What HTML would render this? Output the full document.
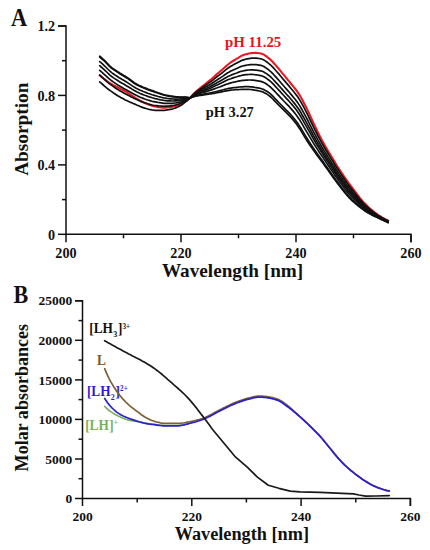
<!DOCTYPE html>
<html><head><meta charset="utf-8"><style>
html,body{margin:0;padding:0;background:#fff;}
svg{display:block;}
text{font-family:"Liberation Serif",serif;font-weight:bold;fill:#111;}
.ax{stroke:#111;stroke-width:1.5;fill:none;stroke-linejoin:miter;}
.cb{stroke:#111;stroke-width:1.7;fill:none;stroke-linejoin:round;stroke-linecap:round;}
.cr{stroke:#ea1a24;stroke-width:2.1;fill:none;stroke-linejoin:round;stroke-linecap:round;}
.cl{stroke-width:1.7;fill:none;stroke-linejoin:round;stroke-linecap:round;}
.tA{font-size:14.2px;}
.ttA{font-size:19.5px;}
.lbA{font-size:14px;}
.tB{font-size:13.5px;}
.ttB{font-size:18px;}
.lbB{font-size:13.3px;}
.sub{font-size:8px;}
.sup{font-size:7.2px;}
.pl{font-size:23.5px;}
</style></head><body>
<svg width="430" height="550" viewBox="0 0 430 550">
<rect width="430" height="550" style="fill:#fff"/>
<path d="M58.0,25.98 H66.0 V234.3 H411.00 V242.3" class="ax"/>
<line x1="58.0" y1="234.3" x2="66.0" y2="234.3" class="ax"/>
<line x1="58.0" y1="164.9" x2="66.0" y2="164.9" class="ax"/>
<line x1="58.0" y1="95.4" x2="66.0" y2="95.4" class="ax"/>
<line x1="58.0" y1="26.0" x2="66.0" y2="26.0" class="ax"/>
<line x1="62.0" y1="199.6" x2="66.0" y2="199.6" class="ax"/>
<line x1="62.0" y1="130.1" x2="66.0" y2="130.1" class="ax"/>
<line x1="62.0" y1="60.7" x2="66.0" y2="60.7" class="ax"/>
<line x1="66.0" y1="234.3" x2="66.0" y2="242.3" class="ax"/>
<line x1="181.0" y1="234.3" x2="181.0" y2="242.3" class="ax"/>
<line x1="296.0" y1="234.3" x2="296.0" y2="242.3" class="ax"/>
<line x1="411.0" y1="234.3" x2="411.0" y2="242.3" class="ax"/>
<line x1="123.5" y1="234.3" x2="123.5" y2="238.3" class="ax"/>
<line x1="238.5" y1="234.3" x2="238.5" y2="238.3" class="ax"/>
<line x1="353.5" y1="234.3" x2="353.5" y2="238.3" class="ax"/>
<text x="55.2" y="239.6" class="tA" text-anchor="end">0</text>
<text x="55.2" y="170.2" class="tA" text-anchor="end">0.4</text>
<text x="55.2" y="100.7" class="tA" text-anchor="end">0.8</text>
<text x="55.2" y="31.3" class="tA" text-anchor="end">1.2</text>
<text x="66.0" y="257.5" class="tA" text-anchor="middle">200</text>
<text x="181.0" y="257.5" class="tA" text-anchor="middle">220</text>
<text x="296.0" y="257.5" class="tA" text-anchor="middle">240</text>
<text x="411.0" y="257.5" class="tA" text-anchor="middle">260</text>
<text x="162.0" y="276.9" class="ttA" textLength="141.2" lengthAdjust="spacingAndGlyphs">Wavelength [nm]</text>
<text transform="translate(28.0,175.8) rotate(-90)" class="ttA" textLength="93.2" lengthAdjust="spacingAndGlyphs">Absorption</text>
<text transform="translate(10.9,25.8) scale(0.95,1.1)" class="pl">A</text>
<text x="225" y="46.8" class="lbA" style="fill:#e8141f" textLength="56.3" lengthAdjust="spacingAndGlyphs">pH 11.25</text>
<text x="205.8" y="117.2" class="lbA" textLength="48" lengthAdjust="spacingAndGlyphs">pH 3.27</text>
<polyline points="99.7,75.2 101.2,76.5 102.7,77.7 104.2,79.0 105.7,80.2 107.2,81.3 108.7,82.4 110.2,83.3 111.7,84.2 113.2,85.1 114.7,85.8 116.2,86.6 117.7,87.3 119.2,88.2 120.7,89.0 122.2,89.8 123.7,90.6 125.2,91.3 126.7,92.1 128.2,93.1 129.7,94.1 131.2,95.1 132.7,96.1 134.2,97.1 135.7,98.1 137.2,98.9 138.7,99.8 140.2,100.7 141.7,101.5 143.2,102.3 144.7,103.0 146.2,103.6 147.7,104.2 149.2,104.8 150.7,105.3 152.2,105.8 153.7,106.2 155.2,106.5 156.7,106.8 158.2,107.1 159.7,107.3 161.2,107.5 162.7,107.7 164.2,107.7 165.7,107.6 167.2,107.5 168.7,107.3 170.2,107.1 171.7,106.9 173.2,106.6 174.7,106.2 176.2,105.8 177.7,105.3 179.2,104.7 180.7,104.0 182.2,103.2 183.7,102.3 185.2,101.4 186.7,100.4 188.2,99.4 190.3,97.8 191.8,96.0 193.3,94.3 194.8,92.7 196.3,91.3 197.8,90.0 199.3,88.8 200.8,87.6 202.3,86.4 203.8,85.2 205.3,84.0 206.8,82.8 208.3,81.6 209.8,80.4 211.3,79.2 212.8,77.9 214.3,76.5 215.8,75.1 217.3,73.8 218.8,72.6 220.3,71.3 221.8,70.1 223.3,68.7 224.8,67.3 226.3,65.9 227.8,64.7 229.3,63.5 230.8,62.4 232.3,61.4 233.8,60.5 235.3,59.6 236.8,58.7 238.3,57.8 239.8,56.8 241.3,55.9 242.8,55.3 244.3,54.8 245.8,54.3 247.3,53.9 248.8,53.5 250.3,53.2 251.8,53.1 253.3,53.0 254.8,52.9 256.3,52.9 257.8,53.0 259.3,53.2 260.8,53.5 262.3,53.9 263.8,54.6 265.3,55.6 266.8,56.7 268.3,57.9 269.8,59.1 271.3,60.5 272.8,62.0 274.3,63.7 275.8,65.4 277.3,67.1 278.8,68.8 280.3,70.7 281.8,72.6 283.3,74.4 284.8,76.2 286.3,78.0 287.8,79.8 289.3,81.6 290.8,83.5 292.3,85.3 293.8,87.1 295.3,89.0 296.8,90.9 298.3,93.1 299.8,95.4 301.3,98.0 302.8,100.8 304.3,103.7 305.8,106.6 307.3,109.6 308.8,112.8 310.3,116.1 311.8,119.5 313.3,122.8 314.8,125.9 316.3,129.0 317.8,132.1 319.3,135.1 320.8,138.0 322.3,140.9 323.8,143.6 325.3,146.2 326.8,148.8 328.3,151.3 329.8,153.8 331.3,156.3 332.8,158.8 334.3,161.3 335.8,163.7 337.3,166.2 338.8,168.5 340.3,170.9 341.8,173.1 343.3,175.4 344.8,177.6 346.3,179.7 347.8,181.9 349.3,184.0 350.8,186.0 352.3,188.0 353.8,190.0 355.3,192.0 356.8,194.0 358.3,196.0 359.8,197.9 361.3,199.7 362.8,201.5 364.3,203.1 365.8,204.6 367.3,206.1 368.8,207.5 370.3,208.8 371.8,210.1 373.3,211.4 374.8,212.6 376.3,213.7 377.8,214.8 379.3,215.8 380.8,216.7 382.3,217.6 383.8,218.4 385.3,219.2 388.2,220.6" class="cr"/>
<polyline points="99.7,56.2 101.2,57.5 102.7,58.8 104.2,60.2 105.7,61.7 107.2,63.3 108.7,64.9 110.2,66.3 111.7,67.6 113.2,68.7 114.7,69.7 116.2,70.7 117.7,71.7 119.2,72.6 120.7,73.6 122.2,74.5 123.7,75.4 125.2,76.3 126.7,77.2 128.2,78.2 129.7,79.3 131.2,80.4 132.7,81.5 134.2,82.6 135.7,83.6 137.2,84.4 138.7,85.2 140.2,85.9 141.7,86.5 143.2,87.2 144.7,87.8 146.2,88.4 147.7,89.0 149.2,89.5 150.7,90.1 152.2,90.6 153.7,91.1 155.2,91.7 156.7,92.2 158.2,92.8 159.7,93.3 161.2,93.8 162.7,94.3 164.2,94.7 165.7,95.1 167.2,95.4 168.7,95.7 170.2,96.0 171.7,96.2 173.2,96.4 174.7,96.6 176.2,96.8 177.7,96.9 179.2,97.0 180.7,97.1 182.2,97.1 183.7,97.1 185.2,97.2 186.7,97.3 188.2,97.5 190.3,97.8 191.8,97.3 193.3,96.8 194.8,96.4 196.3,96.0 197.8,95.8 199.3,95.5 200.8,95.3 202.3,95.1 203.8,94.9 205.3,94.7 206.8,94.5 208.3,94.2 209.8,94.0 211.3,93.8 212.8,93.5 214.3,93.3 215.8,93.0 217.3,92.7 218.8,92.4 220.3,92.1 221.8,91.8 223.3,91.5 224.8,91.2 226.3,90.9 227.8,90.7 229.3,90.4 230.8,90.2 232.3,90.0 233.8,89.9 235.3,89.7 236.8,89.6 238.3,89.6 239.8,89.5 241.3,89.4 242.8,89.3 244.3,89.3 245.8,89.3 247.3,89.3 248.8,89.4 250.3,89.5 251.8,89.6 253.3,89.9 254.8,90.2 256.3,90.4 257.8,90.7 259.3,91.0 260.8,91.4 262.3,91.8 263.8,92.4 265.3,93.2 266.8,94.1 268.3,95.1 269.8,96.2 271.3,97.5 272.8,99.0 274.3,100.6 275.8,102.2 277.3,103.7 278.8,105.2 280.3,106.7 281.8,108.2 283.3,109.7 284.8,111.2 286.3,112.7 287.8,114.1 289.3,115.6 290.8,117.2 292.3,118.9 293.8,120.7 295.3,122.6 296.8,124.6 298.3,126.7 299.8,128.9 301.3,131.3 302.8,133.9 304.3,136.4 305.8,138.9 307.3,141.2 308.8,143.4 310.3,145.7 311.8,147.8 313.3,150.0 314.8,152.1 316.3,154.2 317.8,156.2 319.3,158.2 320.8,160.2 322.3,162.3 323.8,164.3 325.3,166.4 326.8,168.5 328.3,170.6 329.8,172.7 331.3,174.8 332.8,176.9 334.3,179.0 335.8,181.0 337.3,183.1 338.8,185.0 340.3,187.0 341.8,188.9 343.3,190.8 344.8,192.7 346.3,194.5 347.8,196.2 349.3,197.8 350.8,199.3 352.3,200.8 353.8,202.1 355.3,203.5 356.8,204.7 358.3,206.0 359.8,207.1 361.3,208.3 362.8,209.4 364.3,210.5 365.8,211.5 367.3,212.4 368.8,213.3 370.3,214.1 371.8,214.9 373.3,215.7 374.8,216.4 376.3,217.1 377.8,217.8 379.3,218.5 380.8,219.2 382.3,219.9 383.8,220.6 385.3,221.3 388.2,222.6" class="cb"/>
<polyline points="99.7,57.0 101.2,58.3 102.7,59.6 104.2,61.0 105.7,62.5 107.2,64.0 108.7,65.6 110.2,67.0 111.7,68.3 113.2,69.4 114.7,70.4 116.2,71.4 117.7,72.4 119.2,73.4 120.7,74.3 122.2,75.2 123.7,76.1 125.2,77.0 126.7,77.9 128.2,78.9 129.7,80.0 131.2,81.1 132.7,82.2 134.2,83.2 135.7,84.2 137.2,85.0 138.7,85.8 140.2,86.5 141.7,87.2 143.2,87.8 144.7,88.4 146.2,89.0 147.7,89.6 149.2,90.1 150.7,90.7 152.2,91.2 153.7,91.7 155.2,92.2 156.7,92.8 158.2,93.3 159.7,93.8 161.2,94.3 162.7,94.8 164.2,95.2 165.7,95.5 167.2,95.8 168.7,96.1 170.2,96.4 171.7,96.6 173.2,96.8 174.7,97.0 176.2,97.1 177.7,97.2 179.2,97.3 180.7,97.3 182.2,97.3 183.7,97.3 185.2,97.3 186.7,97.4 188.2,97.5 190.3,97.8 191.8,97.2 193.3,96.6 194.8,96.1 196.3,95.7 197.8,95.3 199.3,95.0 200.8,94.7 202.3,94.5 203.8,94.2 205.3,93.9 206.8,93.6 208.3,93.3 209.8,93.0 211.3,92.7 212.8,92.3 214.3,92.0 215.8,91.7 217.3,91.3 218.8,90.9 220.3,90.5 221.8,90.2 223.3,89.8 224.8,89.4 226.3,89.0 227.8,88.7 229.3,88.4 230.8,88.1 232.3,87.9 233.8,87.7 235.3,87.5 236.8,87.3 238.3,87.2 239.8,87.0 241.3,86.9 242.8,86.8 244.3,86.7 245.8,86.7 247.3,86.7 248.8,86.7 250.3,86.8 251.8,86.9 253.3,87.1 254.8,87.4 256.3,87.6 257.8,87.9 259.3,88.2 260.8,88.5 262.3,89.0 263.8,89.6 265.3,90.4 266.8,91.3 268.3,92.3 269.8,93.4 271.3,94.7 272.8,96.2 274.3,97.8 275.8,99.4 277.3,100.9 278.8,102.5 280.3,104.0 281.8,105.5 283.3,107.0 284.8,108.6 286.3,110.1 287.8,111.6 289.3,113.1 290.8,114.7 292.3,116.4 293.8,118.2 295.3,120.1 296.8,122.1 298.3,124.1 299.8,126.4 301.3,128.8 302.8,131.4 304.3,133.9 305.8,136.4 307.3,138.8 308.8,141.1 310.3,143.5 311.8,145.7 313.3,148.0 314.8,150.2 316.3,152.3 317.8,154.4 319.3,156.5 320.8,158.6 322.3,160.6 323.8,162.8 325.3,164.9 326.8,167.0 328.3,169.2 329.8,171.3 331.3,173.4 332.8,175.5 334.3,177.6 335.8,179.7 337.3,181.8 338.8,183.8 340.3,185.8 341.8,187.7 343.3,189.6 344.8,191.5 346.3,193.4 347.8,195.1 349.3,196.8 350.8,198.3 352.3,199.8 353.8,201.2 355.3,202.6 356.8,203.9 358.3,205.2 359.8,206.5 361.3,207.7 362.8,208.8 364.3,209.9 365.8,211.0 367.3,212.0 368.8,212.9 370.3,213.7 371.8,214.6 373.3,215.3 374.8,216.1 376.3,216.8 377.8,217.5 379.3,218.3 380.8,219.0 382.3,219.7 383.8,220.4 385.3,221.1 388.2,222.4" class="cb"/>
<polyline points="99.7,61.6 101.2,62.9 102.7,64.2 104.2,65.6 105.7,67.0 107.2,68.5 108.7,70.0 110.2,71.4 111.7,72.6 113.2,73.7 114.7,74.8 116.2,75.7 117.7,76.7 119.2,77.7 120.7,78.6 122.2,79.5 123.7,80.3 125.2,81.2 126.7,82.1 128.2,83.1 129.7,84.1 131.2,85.1 132.7,86.1 134.2,87.1 135.7,88.0 137.2,88.8 138.7,89.5 140.2,90.2 141.7,90.8 143.2,91.5 144.7,92.0 146.2,92.6 147.7,93.2 149.2,93.7 150.7,94.2 152.2,94.7 153.7,95.1 155.2,95.6 156.7,96.0 158.2,96.5 159.7,96.9 161.2,97.3 162.7,97.7 164.2,98.0 165.7,98.2 167.2,98.5 168.7,98.6 170.2,98.8 171.7,98.9 173.2,99.0 174.7,99.1 176.2,99.1 177.7,99.1 179.2,99.0 180.7,98.8 182.2,98.6 183.7,98.4 185.2,98.2 186.7,98.1 188.2,97.9 190.3,97.8 191.8,96.9 193.3,96.1 194.8,95.4 196.3,94.8 197.8,94.3 199.3,93.8 200.8,93.3 202.3,92.8 203.8,92.4 205.3,91.9 206.8,91.4 208.3,90.9 209.8,90.4 211.3,89.9 212.8,89.4 214.3,88.9 215.8,88.3 217.3,87.8 218.8,87.2 220.3,86.7 221.8,86.1 223.3,85.5 224.8,84.9 226.3,84.3 227.8,83.9 229.3,83.4 230.8,82.9 232.3,82.5 233.8,82.2 235.3,81.9 236.8,81.5 238.3,81.2 239.8,80.9 241.3,80.6 242.8,80.4 244.3,80.3 245.8,80.1 247.3,80.1 248.8,80.0 250.3,80.0 251.8,80.1 253.3,80.2 254.8,80.4 256.3,80.6 257.8,80.8 259.3,81.1 260.8,81.4 262.3,81.9 263.8,82.5 265.3,83.3 266.8,84.3 268.3,85.4 269.8,86.5 271.3,87.8 272.8,89.3 274.3,90.9 275.8,92.5 277.3,94.1 278.8,95.7 280.3,97.3 281.8,98.9 283.3,100.5 284.8,102.0 286.3,103.6 287.8,105.1 289.3,106.7 290.8,108.4 292.3,110.1 293.8,111.9 295.3,113.8 296.8,115.8 298.3,117.9 299.8,120.1 301.3,122.6 302.8,125.2 304.3,127.8 305.8,130.4 307.3,132.9 308.8,135.4 310.3,137.9 311.8,140.4 313.3,142.9 314.8,145.3 316.3,147.6 317.8,149.9 319.3,152.2 320.8,154.4 322.3,156.6 323.8,158.9 325.3,161.1 326.8,163.4 328.3,165.6 329.8,167.8 331.3,169.9 332.8,172.1 334.3,174.3 335.8,176.5 337.3,178.6 338.8,180.7 340.3,182.8 341.8,184.8 343.3,186.8 344.8,188.7 346.3,190.6 347.8,192.4 349.3,194.2 350.8,195.8 352.3,197.4 353.8,199.0 355.3,200.5 356.8,201.9 358.3,203.3 359.8,204.7 361.3,206.1 362.8,207.3 364.3,208.5 365.8,209.7 367.3,210.8 368.8,211.8 370.3,212.8 371.8,213.7 373.3,214.5 374.8,215.4 376.3,216.2 377.8,217.0 379.3,217.8 380.8,218.5 382.3,219.3 383.8,220.0 385.3,220.7 388.2,222.1" class="cb"/>
<polyline points="99.7,65.7 101.2,67.0 102.7,68.3 104.2,69.7 105.7,71.1 107.2,72.5 108.7,74.0 110.2,75.3 111.7,76.5 113.2,77.6 114.7,78.6 116.2,79.6 117.7,80.5 119.2,81.5 120.7,82.4 122.2,83.3 123.7,84.1 125.2,85.0 126.7,85.9 128.2,86.8 129.7,87.7 131.2,88.6 132.7,89.6 134.2,90.5 135.7,91.3 137.2,92.1 138.7,92.8 140.2,93.5 141.7,94.1 143.2,94.7 144.7,95.3 146.2,95.8 147.7,96.4 149.2,96.9 150.7,97.3 152.2,97.8 153.7,98.2 155.2,98.6 156.7,98.9 158.2,99.3 159.7,99.6 161.2,100.0 162.7,100.2 164.2,100.5 165.7,100.6 167.2,100.8 168.7,100.9 170.2,100.9 171.7,101.0 173.2,101.0 174.7,100.9 176.2,100.8 177.7,100.7 179.2,100.5 180.7,100.2 182.2,99.8 183.7,99.4 185.2,99.1 186.7,98.7 188.2,98.3 190.3,97.8 191.8,96.7 193.3,95.7 194.8,94.8 196.3,94.1 197.8,93.4 199.3,92.7 200.8,92.1 202.3,91.5 203.8,90.9 205.3,90.2 206.8,89.6 208.3,89.0 209.8,88.4 211.3,87.7 212.8,87.0 214.3,86.3 215.8,85.6 217.3,84.9 218.8,84.2 220.3,83.5 221.8,82.8 223.3,82.0 224.8,81.2 226.3,80.5 227.8,79.8 229.3,79.2 230.8,78.7 232.3,78.1 233.8,77.6 235.3,77.2 236.8,76.8 238.3,76.3 239.8,75.9 241.3,75.5 242.8,75.2 244.3,74.9 245.8,74.7 247.3,74.6 248.8,74.5 250.3,74.4 251.8,74.4 253.3,74.5 254.8,74.7 256.3,74.8 257.8,75.0 259.3,75.3 260.8,75.6 262.3,76.0 263.8,76.7 265.3,77.5 266.8,78.6 268.3,79.7 269.8,80.8 271.3,82.1 272.8,83.6 274.3,85.2 275.8,86.9 277.3,88.5 278.8,90.1 280.3,91.7 281.8,93.4 283.3,95.0 284.8,96.7 286.3,98.3 287.8,99.9 289.3,101.5 290.8,103.2 292.3,104.9 293.8,106.7 295.3,108.6 296.8,110.6 298.3,112.7 299.8,115.0 301.3,117.5 302.8,120.1 304.3,122.8 305.8,125.4 307.3,128.1 308.8,130.7 310.3,133.4 311.8,136.0 313.3,138.7 314.8,141.2 316.3,143.7 317.8,146.2 319.3,148.6 320.8,151.0 322.3,153.4 323.8,155.7 325.3,158.0 326.8,160.3 328.3,162.6 329.8,164.8 331.3,167.1 332.8,169.3 334.3,171.6 335.8,173.8 337.3,176.0 338.8,178.2 340.3,180.3 341.8,182.3 343.3,184.4 344.8,186.4 346.3,188.3 347.8,190.2 349.3,192.0 350.8,193.8 352.3,195.5 353.8,197.1 355.3,198.7 356.8,200.3 358.3,201.8 359.8,203.3 361.3,204.7 362.8,206.1 364.3,207.4 365.8,208.6 367.3,209.8 368.8,210.9 370.3,211.9 371.8,212.9 373.3,213.9 374.8,214.8 376.3,215.7 377.8,216.5 379.3,217.3 380.8,218.1 382.3,218.9 383.8,219.7 385.3,220.4 388.2,221.8" class="cb"/>
<polyline points="99.7,70.3 101.2,71.6 102.7,73.0 104.2,74.3 105.7,75.7 107.2,77.0 108.7,78.4 110.2,79.6 111.7,80.8 113.2,81.9 114.7,82.9 116.2,83.9 117.7,84.9 119.2,85.8 120.7,86.7 122.2,87.6 123.7,88.4 125.2,89.3 126.7,90.1 128.2,90.9 129.7,91.8 131.2,92.6 132.7,93.5 134.2,94.3 135.7,95.1 137.2,95.8 138.7,96.5 140.2,97.2 141.7,97.8 143.2,98.4 144.7,99.0 146.2,99.5 147.7,100.0 149.2,100.4 150.7,100.9 152.2,101.3 153.7,101.6 155.2,101.9 156.7,102.2 158.2,102.5 159.7,102.7 161.2,102.9 162.7,103.1 164.2,103.3 165.7,103.4 167.2,103.4 168.7,103.4 170.2,103.4 171.7,103.3 173.2,103.2 174.7,103.0 176.2,102.8 177.7,102.5 179.2,102.1 180.7,101.7 182.2,101.1 183.7,100.6 185.2,100.0 186.7,99.3 188.2,98.7 190.3,97.8 191.8,96.6 193.3,95.4 194.8,94.4 196.3,93.5 197.8,92.7 199.3,91.9 200.8,91.2 202.3,90.4 203.8,89.7 205.3,88.9 206.8,88.2 208.3,87.4 209.8,86.7 211.3,85.9 212.8,85.1 214.3,84.2 215.8,83.4 217.3,82.5 218.8,81.7 220.3,80.9 221.8,80.1 223.3,79.2 224.8,78.3 226.3,77.4 227.8,76.6 229.3,75.9 230.8,75.2 232.3,74.6 233.8,74.0 235.3,73.5 236.8,73.0 238.3,72.4 239.8,71.8 241.3,71.3 242.8,71.0 244.3,70.7 245.8,70.4 247.3,70.2 248.8,70.0 250.3,69.9 251.8,69.9 253.3,69.9 254.8,70.1 256.3,70.2 257.8,70.3 259.3,70.6 260.8,70.9 262.3,71.3 263.8,72.0 265.3,72.9 266.8,73.9 268.3,75.0 269.8,76.2 271.3,77.5 272.8,79.0 274.3,80.7 275.8,82.3 277.3,83.9 278.8,85.6 280.3,87.2 281.8,88.9 283.3,90.6 284.8,92.3 286.3,94.0 287.8,95.6 289.3,97.3 290.8,99.0 292.3,100.8 293.8,102.6 295.3,104.4 296.8,106.4 298.3,108.5 299.8,110.8 301.3,113.3 302.8,116.0 304.3,118.7 305.8,121.4 307.3,124.1 308.8,126.9 310.3,129.7 311.8,132.5 313.3,135.3 314.8,138.0 316.3,140.6 317.8,143.2 319.3,145.7 320.8,148.2 322.3,150.7 323.8,153.1 325.3,155.5 326.8,157.9 328.3,160.2 329.8,162.5 331.3,164.8 332.8,167.1 334.3,169.4 335.8,171.7 337.3,173.9 338.8,176.1 340.3,178.3 341.8,180.4 343.3,182.5 344.8,184.5 346.3,186.5 347.8,188.5 349.3,190.3 350.8,192.1 352.3,193.9 353.8,195.6 355.3,197.3 356.8,198.9 358.3,200.6 359.8,202.1 361.3,203.7 362.8,205.1 364.3,206.5 365.8,207.8 367.3,209.0 368.8,210.2 370.3,211.3 371.8,212.3 373.3,213.3 374.8,214.3 376.3,215.2 377.8,216.1 379.3,217.0 380.8,217.8 382.3,218.6 383.8,219.4 385.3,220.2 388.2,221.5" class="cb"/>
<polyline points="99.7,75.2 101.2,76.5 102.7,77.8 104.2,79.2 105.7,80.5 107.2,81.8 108.7,83.1 110.2,84.3 111.7,85.4 113.2,86.4 114.7,87.5 116.2,88.5 117.7,89.4 119.2,90.4 120.7,91.3 122.2,92.1 123.7,92.9 125.2,93.7 126.7,94.5 128.2,95.3 129.7,96.1 131.2,96.9 132.7,97.6 134.2,98.4 135.7,99.1 137.2,99.8 138.7,100.4 140.2,101.1 141.7,101.7 143.2,102.3 144.7,102.8 146.2,103.3 147.7,103.8 149.2,104.2 150.7,104.6 152.2,105.0 153.7,105.3 155.2,105.5 156.7,105.6 158.2,105.8 159.7,106.0 161.2,106.1 162.7,106.2 164.2,106.3 165.7,106.2 167.2,106.2 168.7,106.1 170.2,105.9 171.7,105.7 173.2,105.5 174.7,105.2 176.2,104.8 177.7,104.4 179.2,103.9 180.7,103.3 182.2,102.5 183.7,101.7 185.2,100.9 186.7,100.1 188.2,99.2 190.3,97.8 191.8,96.4 193.3,95.0 194.8,93.8 196.3,92.8 197.8,91.8 199.3,90.9 200.8,90.0 202.3,89.1 203.8,88.2 205.3,87.3 206.8,86.5 208.3,85.6 209.8,84.7 211.3,83.8 212.8,82.8 214.3,81.8 215.8,80.7 217.3,79.8 218.8,78.8 220.3,77.9 221.8,76.9 223.3,75.9 224.8,74.8 226.3,73.8 227.8,72.8 229.3,72.0 230.8,71.1 232.3,70.4 233.8,69.7 235.3,69.1 236.8,68.4 238.3,67.7 239.8,67.0 241.3,66.4 242.8,66.0 244.3,65.6 245.8,65.3 247.3,65.0 248.8,64.8 250.3,64.6 251.8,64.6 253.3,64.6 254.8,64.6 256.3,64.7 257.8,64.8 259.3,65.1 260.8,65.4 262.3,65.8 263.8,66.5 265.3,67.4 266.8,68.5 268.3,69.6 269.8,70.8 271.3,72.1 272.8,73.6 274.3,75.3 275.8,76.9 277.3,78.6 278.8,80.3 280.3,82.0 281.8,83.7 283.3,85.5 284.8,87.2 286.3,88.9 287.8,90.6 289.3,92.3 290.8,94.1 292.3,95.9 293.8,97.7 295.3,99.5 296.8,101.5 298.3,103.6 299.8,105.9 301.3,108.5 302.8,111.2 304.3,113.9 305.8,116.7 307.3,119.5 308.8,122.4 310.3,125.4 311.8,128.4 313.3,131.3 314.8,134.1 316.3,136.9 317.8,139.7 319.3,142.3 320.8,145.0 322.3,147.6 323.8,150.1 325.3,152.6 326.8,155.0 328.3,157.4 329.8,159.7 331.3,162.1 332.8,164.5 334.3,166.8 335.8,169.2 337.3,171.5 338.8,173.7 340.3,175.9 341.8,178.1 343.3,180.2 344.8,182.3 346.3,184.4 347.8,186.4 349.3,188.3 350.8,190.2 352.3,192.0 353.8,193.8 355.3,195.6 356.8,197.4 358.3,199.1 359.8,200.8 361.3,202.4 362.8,204.0 364.3,205.4 365.8,206.8 367.3,208.1 368.8,209.3 370.3,210.5 371.8,211.6 373.3,212.7 374.8,213.8 376.3,214.7 377.8,215.7 379.3,216.6 380.8,217.5 382.3,218.3 383.8,219.1 385.3,219.9 388.2,221.2" class="cb"/>
<polyline points="99.7,81.8 101.2,83.2 102.7,84.5 104.2,85.8 105.7,87.1 107.2,88.3 108.7,89.5 110.2,90.6 111.7,91.6 113.2,92.7 114.7,93.7 116.2,94.7 117.7,95.7 119.2,96.6 120.7,97.5 122.2,98.3 123.7,99.1 125.2,99.9 126.7,100.6 128.2,101.3 129.7,102.0 131.2,102.6 132.7,103.3 134.2,103.9 135.7,104.5 137.2,105.2 138.7,105.8 140.2,106.5 141.7,107.1 143.2,107.6 144.7,108.1 146.2,108.5 147.7,109.0 149.2,109.4 150.7,109.7 152.2,110.0 153.7,110.2 155.2,110.3 156.7,110.3 158.2,110.4 159.7,110.4 161.2,110.4 162.7,110.4 164.2,110.3 165.7,110.2 167.2,109.9 168.7,109.7 170.2,109.4 171.7,109.1 173.2,108.7 174.7,108.2 176.2,107.6 177.7,107.0 179.2,106.3 180.7,105.5 182.2,104.5 183.7,103.4 185.2,102.2 186.7,101.0 188.2,99.7 190.3,97.8 191.8,96.1 193.3,94.6 194.8,93.2 196.3,91.9 197.8,90.8 199.3,89.8 200.8,88.7 202.3,87.6 203.8,86.5 205.3,85.5 206.8,84.4 208.3,83.4 209.8,82.3 211.3,81.3 212.8,80.1 214.3,78.8 215.8,77.6 217.3,76.5 218.8,75.4 220.3,74.3 221.8,73.1 223.3,71.9 224.8,70.6 226.3,69.4 227.8,68.3 229.3,67.3 230.8,66.3 232.3,65.4 233.8,64.6 235.3,63.8 236.8,63.1 238.3,62.2 239.8,61.4 241.3,60.6 242.8,60.1 244.3,59.6 245.8,59.2 247.3,58.9 248.8,58.6 250.3,58.3 251.8,58.2 253.3,58.1 254.8,58.1 256.3,58.2 257.8,58.3 259.3,58.5 260.8,58.8 262.3,59.2 263.8,59.9 265.3,60.9 266.8,62.0 268.3,63.1 269.8,64.3 271.3,65.7 272.8,67.2 274.3,68.8 275.8,70.5 277.3,72.2 278.8,73.9 280.3,75.7 281.8,77.5 283.3,79.4 284.8,81.1 286.3,82.9 287.8,84.6 289.3,86.4 290.8,88.2 292.3,90.0 293.8,91.8 295.3,93.7 296.8,95.6 298.3,97.8 299.8,100.1 301.3,102.7 302.8,105.4 304.3,108.2 305.8,111.1 307.3,114.0 308.8,117.1 310.3,120.3 311.8,123.4 313.3,126.6 314.8,129.6 316.3,132.5 317.8,135.5 319.3,138.3 320.8,141.1 322.3,143.9 323.8,146.5 325.3,149.0 326.8,151.5 328.3,154.0 329.8,156.4 331.3,158.9 332.8,161.3 334.3,163.7 335.8,166.2 337.3,168.5 338.8,170.8 340.3,173.1 341.8,175.3 343.3,177.5 344.8,179.7 346.3,181.8 347.8,183.9 349.3,185.9 350.8,187.9 352.3,189.8 353.8,191.7 355.3,193.6 356.8,195.5 358.3,197.4 359.8,199.2 361.3,200.9 362.8,202.6 364.3,204.1 365.8,205.6 367.3,207.0 368.8,208.3 370.3,209.6 371.8,210.8 373.3,212.0 374.8,213.1 376.3,214.2 377.8,215.2 379.3,216.1 380.8,217.0 382.3,217.9 383.8,218.7 385.3,219.5 388.2,220.9" class="cb"/>
<path d="M75.0,300.80 H82.5 V498.5 H410.40 V506.0" class="ax"/>
<line x1="75.0" y1="498.5" x2="82.5" y2="498.5" class="ax"/>
<text x="72.3" y="503.1" class="tB" text-anchor="end">0</text>
<line x1="75.0" y1="459.0" x2="82.5" y2="459.0" class="ax"/>
<text x="72.3" y="463.6" class="tB" text-anchor="end">5000</text>
<line x1="75.0" y1="419.4" x2="82.5" y2="419.4" class="ax"/>
<text x="72.3" y="424.0" class="tB" text-anchor="end">10000</text>
<line x1="75.0" y1="379.9" x2="82.5" y2="379.9" class="ax"/>
<text x="72.3" y="384.5" class="tB" text-anchor="end">15000</text>
<line x1="75.0" y1="340.3" x2="82.5" y2="340.3" class="ax"/>
<text x="72.3" y="344.9" class="tB" text-anchor="end">20000</text>
<line x1="75.0" y1="300.8" x2="82.5" y2="300.8" class="ax"/>
<text x="72.3" y="305.4" class="tB" text-anchor="end">25000</text>
<line x1="78.5" y1="478.7" x2="82.5" y2="478.7" class="ax"/>
<line x1="78.5" y1="439.2" x2="82.5" y2="439.2" class="ax"/>
<line x1="78.5" y1="399.6" x2="82.5" y2="399.6" class="ax"/>
<line x1="78.5" y1="360.1" x2="82.5" y2="360.1" class="ax"/>
<line x1="78.5" y1="320.6" x2="82.5" y2="320.6" class="ax"/>
<line x1="82.5" y1="498.5" x2="82.5" y2="506.0" class="ax"/>
<text x="82.5" y="520.9" class="tB" text-anchor="middle">200</text>
<line x1="191.8" y1="498.5" x2="191.8" y2="506.0" class="ax"/>
<text x="191.8" y="520.9" class="tB" text-anchor="middle">220</text>
<line x1="301.1" y1="498.5" x2="301.1" y2="506.0" class="ax"/>
<text x="301.1" y="520.9" class="tB" text-anchor="middle">240</text>
<line x1="410.4" y1="498.5" x2="410.4" y2="506.0" class="ax"/>
<text x="410.4" y="520.9" class="tB" text-anchor="middle">260</text>
<line x1="137.2" y1="498.5" x2="137.2" y2="502.5" class="ax"/>
<line x1="246.4" y1="498.5" x2="246.4" y2="502.5" class="ax"/>
<line x1="355.8" y1="498.5" x2="355.8" y2="502.5" class="ax"/>
<text x="174.7" y="539.6" class="ttB" textLength="134.3" lengthAdjust="spacingAndGlyphs">Wavelength [nm]</text>
<text transform="translate(28.4,471.4) rotate(-90)" class="ttB" textLength="147.5" lengthAdjust="spacingAndGlyphs">Molar absorbances</text>
<text transform="translate(13.4,303) scale(0.94,1.03)" class="pl">B</text>
<g transform="translate(0,333.5) scale(1,1.07) translate(0,-333.5)">
<text x="89.3" y="333.5" class="lbB">[LH</text>
<text x="113.2" y="337.1" class="sub">3</text>
<text x="118.0" y="333.5" class="lbB">]</text>
<text x="122.5" y="329.0" class="sup">3+</text>
</g>
<g transform="translate(0,396.3) scale(1,1.07) translate(0,-396.3)">
<text x="86.9" y="396.3" class="lbB" style="fill:#2c1ccc">[LH</text>
<text x="110.8" y="399.9" class="sub" style="fill:#2c1ccc">2</text>
<text x="115.6" y="396.3" class="lbB" style="fill:#2c1ccc">]</text>
<text x="120.1" y="391.8" class="sup" style="fill:#2c1ccc">2+</text>
</g>
<g transform="translate(0,429.6) scale(1,1.07) translate(0,-429.6)">
<text x="85.2" y="429.6" class="lbB" style="fill:#78b25a">[LH</text>
<text x="109.3" y="429.6" class="lbB" style="fill:#78b25a">]</text>
<text x="113.8" y="425.1" class="sup" style="fill:#78b25a">+</text>
</g>
<text transform="translate(97.0,364.7) scale(1,1.07)" class="lbB" style="fill:#735a22">L</text>
<polyline points="104.7,406.3 106.2,407.8 107.7,409.3 109.2,410.5 110.7,411.6 112.2,412.6 113.7,413.6 115.2,414.4 116.7,415.2 118.2,416.0 119.7,416.7 121.2,417.4 122.7,418.1 124.2,418.7 125.7,419.3 127.2,419.7 128.7,420.1 130.2,420.4 131.7,420.6 133.2,420.9 134.7,421.1 136.2,421.3 137.7,421.6 139.2,421.9 140.7,422.2 142.2,422.5 143.7,422.8 145.2,423.1 146.7,423.3 148.2,423.6 149.7,423.8 151.2,424.0 152.7,424.2 154.2,424.4 155.7,424.6 157.2,424.8 158.7,425.0 160.2,425.2 161.7,425.3 163.2,425.4 164.7,425.5 166.2,425.5 167.7,425.5 169.2,425.5 170.7,425.5 172.2,425.5 173.7,425.5 175.2,425.5 176.7,425.5 178.2,425.5 179.7,425.4 181.2,425.2 182.7,425.0 184.2,424.6 185.7,424.2 187.2,423.8 188.7,423.4 189.0,423.3" class="cl" stroke="#79b25a"/>
<polyline points="104.7,368.7 106.2,372.3 107.7,375.7 109.2,378.8 110.7,381.6 112.2,384.2 113.7,386.7 115.2,389.0 116.7,391.2 118.2,393.3 119.7,395.2 121.2,397.0 122.7,398.8 124.2,400.4 125.7,402.0 127.2,403.4 128.7,404.8 130.2,406.1 131.7,407.3 133.2,408.5 134.7,409.6 136.2,410.8 137.7,411.9 139.2,413.0 140.7,414.2 142.2,415.3 143.7,416.3 145.2,417.3 146.7,418.1 148.2,418.8 149.7,419.5 151.2,420.2 152.7,420.7 154.2,421.2 155.7,421.7 157.2,422.1 158.7,422.4 160.2,422.8 161.7,423.1 163.2,423.3 164.7,423.4 166.2,423.4 167.7,423.4 169.2,423.4 170.7,423.4 172.2,423.4 173.7,423.4 175.2,423.4 176.7,423.4 178.2,423.4 179.7,423.3 181.2,423.2 182.7,423.0 184.2,422.8 185.7,422.5 187.2,422.2 188.7,422.0 190.2,421.7 191.7,421.4 193.2,421.0 194.7,420.7 196.2,420.3 197.7,419.9 199.2,419.5 200.7,419.0 202.2,418.5 203.7,418.0 205.2,417.5 206.7,416.8 208.2,416.1 209.7,415.3 211.2,414.5 212.7,413.7 214.2,412.8 215.7,412.0 217.2,411.2 218.7,410.4 220.2,409.6 221.7,408.9 223.2,408.1 224.7,407.4 226.2,406.6 227.7,405.9 229.2,405.2 230.7,404.4 232.2,403.8 233.7,403.1 235.2,402.5 236.7,401.9 238.2,401.4 239.7,400.8 241.2,400.3 242.7,399.8 244.2,399.3 245.7,398.8 247.2,398.4 248.7,398.0 250.2,397.7 251.7,397.3 253.2,396.9 254.7,396.6 256.2,396.3 257.7,396.1 259.2,396.0 260.7,396.0 262.2,396.1 263.7,396.3 265.2,396.4 266.7,396.6 268.2,396.8 269.7,397.1 271.2,397.4 272.7,397.7 274.2,398.1 275.7,398.5 277.2,399.0 278.7,399.6 280.2,400.4 281.7,401.3 283.2,402.3 284.7,403.4 286.2,404.5 287.7,405.7 289.2,406.9 290.7,408.2 292.2,409.5 293.7,410.9 295.2,412.3 296.7,413.7 298.2,415.0 299.7,416.4 301.2,417.7 302.7,419.0 304.2,420.4 305.7,421.8 307.2,423.2 308.7,424.6 310.2,426.1 311.7,427.5 313.2,429.0 314.7,430.5 316.2,432.0 317.7,433.5 319.2,435.1 320.7,436.8 322.2,438.5 323.7,440.3 325.2,442.2 326.7,444.0 328.2,445.9 329.7,447.7 331.2,449.5 332.7,451.4 334.2,453.3 335.7,455.1 337.2,456.9 338.7,458.6 340.2,460.2 341.7,461.8 343.2,463.3 344.7,464.8 346.2,466.2 347.7,467.6 349.2,468.9 350.7,470.2 352.2,471.4 353.7,472.6 355.2,473.8 356.7,474.9 358.2,476.0 359.7,477.1 361.2,478.2 362.7,479.3 364.2,480.3 365.7,481.2 367.2,482.1 368.7,483.0 370.2,483.9 371.7,484.7 373.2,485.4 374.7,486.1 376.2,486.8 377.7,487.4 379.2,487.9 380.7,488.5 382.2,489.0 383.7,489.5 385.2,489.9 386.7,490.3 388.2,490.7 389.3,490.9" class="cl" stroke="#7d6036"/>
<polyline points="104.7,398.5 106.2,400.8 107.7,403.0 109.2,404.9 110.7,406.5 112.2,408.1 113.7,409.5 115.2,410.9 116.7,412.1 118.2,413.1 119.7,414.1 121.2,414.9 122.7,415.7 124.2,416.4 125.7,417.1 127.2,417.7 128.7,418.3 130.2,418.9 131.7,419.4 133.2,419.9 134.7,420.4 136.2,420.9 137.7,421.3 139.2,421.8 140.7,422.2 142.2,422.6 143.7,423.0 145.2,423.3 146.7,423.6 148.2,423.9 149.7,424.1 151.2,424.3 152.7,424.5 154.2,424.7 155.7,424.9 157.2,425.1 158.7,425.3 160.2,425.5 161.7,425.7 163.2,425.8 164.7,425.9 166.2,425.9 167.7,425.9 169.2,425.9 170.7,425.9 172.2,425.9 173.7,425.9 175.2,425.8 176.7,425.8 178.2,425.8 179.7,425.7 181.2,425.5 182.7,425.2 184.2,424.8 185.7,424.5 187.2,424.1 188.7,423.7 190.2,423.3 191.7,422.9 193.2,422.5 194.7,422.1 196.2,421.7 197.7,421.2 199.2,420.7 200.7,420.2 202.2,419.7 203.7,419.1 205.2,418.5 206.7,417.8 208.2,417.1 209.7,416.4 211.2,415.6 212.7,414.7 214.2,413.9 215.7,413.1 217.2,412.2 218.7,411.5 220.2,410.7 221.7,410.0 223.2,409.2 224.7,408.5 226.2,407.7 227.7,407.0 229.2,406.3 230.7,405.5 232.2,404.9 233.7,404.2 235.2,403.6 236.7,403.0 238.2,402.5 239.7,401.9 241.2,401.4 242.7,400.9 244.2,400.4 245.7,399.9 247.2,399.5 248.7,399.1 250.2,398.8 251.7,398.4 253.2,398.0 254.7,397.7 256.2,397.4 257.7,397.2 259.2,397.1 260.7,397.1 262.2,397.2 263.7,397.4 265.2,397.5 266.7,397.7 268.2,397.9 269.7,398.2 271.2,398.5 272.7,398.8 274.2,399.2 275.7,399.6 277.2,400.1 278.7,400.7 280.2,401.5 281.7,402.4 283.2,403.5 284.7,404.6 286.2,405.7 287.7,406.8 289.2,407.9 290.7,409.0 292.2,410.2 293.7,411.5 295.2,412.7 296.7,414.0 298.2,415.3 299.7,416.6 301.2,417.9 302.7,419.3 304.2,420.7 305.7,422.1 307.2,423.5 308.7,424.9 310.2,426.4 311.7,427.8 313.2,429.3 314.7,430.8 316.2,432.3 317.7,433.8 319.2,435.4 320.7,437.1 322.2,438.8 323.7,440.6 325.2,442.5 326.7,444.3 328.2,446.2 329.7,448.0 331.2,449.8 332.7,451.7 334.2,453.6 335.7,455.4 337.2,457.2 338.7,458.9 340.2,460.5 341.7,462.1 343.2,463.6 344.7,465.1 346.2,466.5 347.7,467.9 349.2,469.2 350.7,470.5 352.2,471.7 353.7,472.9 355.2,474.1 356.7,475.2 358.2,476.3 359.7,477.4 361.2,478.5 362.7,479.6 364.2,480.6 365.7,481.5 367.2,482.4 368.7,483.3 370.2,484.2 371.7,485.0 373.2,485.7 374.7,486.4 376.2,487.1 377.7,487.7 379.2,488.2 380.7,488.8 382.2,489.3 383.7,489.8 385.2,490.2 386.7,490.6 388.2,491.0 389.3,491.2" class="cl" stroke="#2c20cc"/>
<polyline points="104.6,340.7 106.1,341.5 107.6,342.4 109.1,343.2 110.6,344.1 112.1,344.9 113.6,345.7 115.1,346.5 116.6,347.4 118.1,348.2 119.6,349.0 121.1,349.8 122.6,350.7 124.1,351.5 125.6,352.3 127.1,353.1 128.6,353.9 130.1,354.6 131.6,355.4 133.1,356.2 134.6,356.9 136.1,357.7 137.6,358.4 139.1,359.2 140.6,360.0 142.1,360.9 143.6,361.7 145.1,362.6 146.6,363.5 148.1,364.4 149.6,365.3 151.1,366.3 152.6,367.3 154.1,368.3 155.6,369.4 157.1,370.5 158.6,371.6 160.1,372.8 161.6,374.0 163.1,375.3 164.6,376.6 166.1,377.9 167.6,379.3 169.1,380.6 170.6,381.9 172.1,383.2 173.6,384.6 175.1,385.9 176.6,387.2 178.1,388.5 179.6,389.8 181.1,391.2 182.6,392.6 184.1,394.0 185.6,395.5 187.1,397.1 188.6,398.7 190.1,400.3 191.6,402.1 193.1,403.9 194.6,405.7 196.1,407.6 197.6,409.6 199.1,411.5 200.6,413.5 202.1,415.4 203.6,417.3 205.1,419.3 206.6,421.3 208.1,423.3 209.6,425.3 211.1,427.4 212.6,429.4 213,430.0 234.8,456.3 247.8,467.6 257.1,476.9 268.3,485.2 278.9,488.3 290.3,491.1 300,491.8 320,492.3 353.5,493.9 359,495.0 365.6,496.1 375.8,496.0 389.3,495.6" class="cl" stroke="#1a1a1a"/>
</svg>
</body></html>
